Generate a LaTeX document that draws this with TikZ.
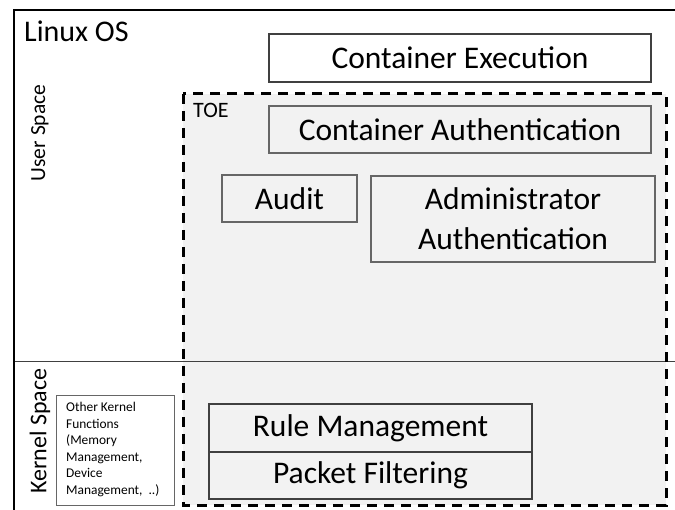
\documentclass[tikz,border=0pt]{standalone}
\usepackage{fontspec}
\setmainfont{Carlito}
\begin{document}
\begin{tikzpicture}[x=1pt,y=-1pt,
  box/.style={draw=black!60, line width=1.1pt, inner sep=0pt, font=\fontsize{31.5}{40}\selectfont, align=center},
  lbl/.style={inner sep=0pt}]
\useasboundingbox (0,0) rectangle (675,510);
% TOE region
\fill[black!5] (183,94) rectangle (666,505);
\draw[line width=1pt, black!75] (14,362) -- (675,362);
\draw[line width=3pt, dash pattern=on 10pt off 7pt] (183,94) rectangle (666,505);
% outer frame
\draw[line width=2.5pt] (14,510) -- (14,10) -- (675,10);
\node[lbl, anchor=north west, font=\fontsize{30}{34}\selectfont] (linux) at (24,21) {Linux OS};
\node[lbl, rotate=90, font=\fontsize{21.5}{24}\selectfont] (user) at (40,133) {User Space};
\node[lbl, rotate=90, font=\fontsize{24}{28}\selectfont] (kernel) at (40,431) {Kernel Space};
\node[anchor=north west, inner sep=0pt, font=\fontsize{22}{24}\selectfont] (toe) at (193,103) {TOE};
\node[box, fill=white, minimum width=382pt, minimum height=48pt, draw=black!75] (exec) at (460,58) {Container Execution};
\node[box, fill=black!5, minimum width=382pt, minimum height=47pt] (cauth) at (460,129.5) {Container Authentication};
\node[box, fill=black!5, minimum width=135pt, minimum height=47pt] (audit) at (289.5,198.5) {Audit};
\node[box, fill=black!5, minimum width=284pt, minimum height=86pt] (admin) at (513,219) {Administrator\\Authentication};
\node[box, fill=black!5, minimum width=323pt, minimum height=48pt, draw=black!75] (rule) at (370.5,428) {Rule Management};
\node[box, fill=black!5, minimum width=323pt, minimum height=47pt, draw=black!75] (packet) at (370.5,475.5) {Packet Filtering};
\node[draw=black!60, line width=1pt, fill=white, minimum width=118pt, minimum height=109pt, inner sep=0pt] (other) at (115,450.5) {};
\node[anchor=north west, inner sep=0pt, align=left, font=\fontsize{13.4}{16.6}\selectfont] (othertxt) at (66,402) {Other Kernel\\Functions\\(Memory\\Management,\\Device\\Management,\ \ ..)};
\end{tikzpicture}
\end{document}
